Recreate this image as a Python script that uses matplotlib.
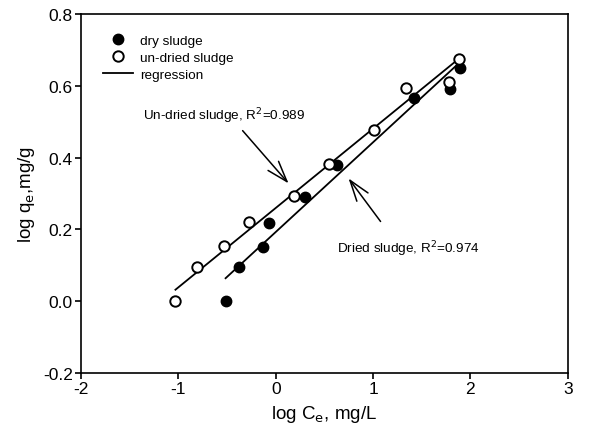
import matplotlib
matplotlib.use("Agg")
import matplotlib.pyplot as plt

plt.rcParams['font.family'] = ['Liberation Sans', 'DejaVu Sans']

# Data (log Ce, log qe)
dry_x = [-0.508, -0.378, -0.131, -0.073, 0.303, 0.625, 1.419, 1.785, 1.891]
dry_y = [0.000, 0.094, 0.150, 0.217, 0.291, 0.378, 0.567, 0.590, 0.649]
undried_x = [-1.038, -0.806, -0.532, -0.275, 0.190, 0.543, 1.012, 1.337, 1.775, 1.884]
undried_y = [0.000, 0.096, 0.153, 0.221, 0.294, 0.383, 0.477, 0.593, 0.610, 0.675]

# Regression line endpoints
reg_undried_x = [-1.03, 1.857]
reg_undried_y = [0.032, 0.670]
reg_dry_x = [-0.515, 1.874]
reg_dry_y = [0.064, 0.661]

xticks = [-2, -1, 0, 1, 2, 3]
yticks = [-0.2, 0.0, 0.2, 0.4, 0.6, 0.8]

fig = plt.figure(figsize=(6.1, 4.39), dpi=100)
ax = fig.add_axes([0.1328, 0.148, 0.798, 0.818])

ax.plot(reg_undried_x, reg_undried_y, color='black', lw=1.3, zorder=2)
ax.plot(reg_dry_x, reg_dry_y, color='black', lw=1.3, zorder=2)
ax.plot(dry_x, dry_y, 'o', color='black', markersize=7.5, zorder=3, label='dry sludge')
ax.plot(undried_x, undried_y, 'o', markerfacecolor='white', markeredgecolor='black',
        markeredgewidth=1.4, markersize=7.5, zorder=4, label='un-dried sludge')
ax.plot([], [], color='black', lw=1.3, label='regression')

aprops = dict(arrowstyle='->,head_length=1.5,head_width=0.5', color='black', lw=1.1,
              shrinkA=0, shrinkB=0)
ax.annotate('', xy=(0.132, 0.328), xytext=(-0.340, 0.475), arrowprops=aprops)
ax.text(-1.367, 0.517, 'Un-dried sludge, R$^2$=0.989', fontsize=9.7, va='center', ha='left')
ax.annotate('', xy=(0.748, 0.342), xytext=(1.077, 0.222), arrowprops=aprops)
ax.text(0.632, 0.147, 'Dried sludge, R$^2$=0.974', fontsize=9.7, va='center', ha='left')

ax.set_xlim(-2, 3)
ax.set_ylim(-0.2, 0.8)
ax.set_xticks(xticks)
ax.set_yticks(yticks)
ax.set_xticklabels([str(t) for t in xticks])
ax.set_yticklabels(['%.1f' % t for t in yticks])
ax.tick_params(direction='out', labelsize=12.5, length=4, width=1.2, top=False, right=False, pad=2)
for s in ax.spines.values():
    s.set_linewidth(1.2)

ax.set_xlabel('log C$_\\mathrm{e}$, mg/L', fontsize=13.5, labelpad=5)
ax.set_ylabel('log q$_\\mathrm{e}$,mg/g', fontsize=13.5, labelpad=4)

leg = ax.legend(loc='upper left', frameon=False, fontsize=9.7, handlelength=2.2,
                borderaxespad=0.0, labelspacing=0.33, handletextpad=0.5,
                bbox_to_anchor=(0.035, 0.958))

fig.savefig('out.png', dpi=100)
